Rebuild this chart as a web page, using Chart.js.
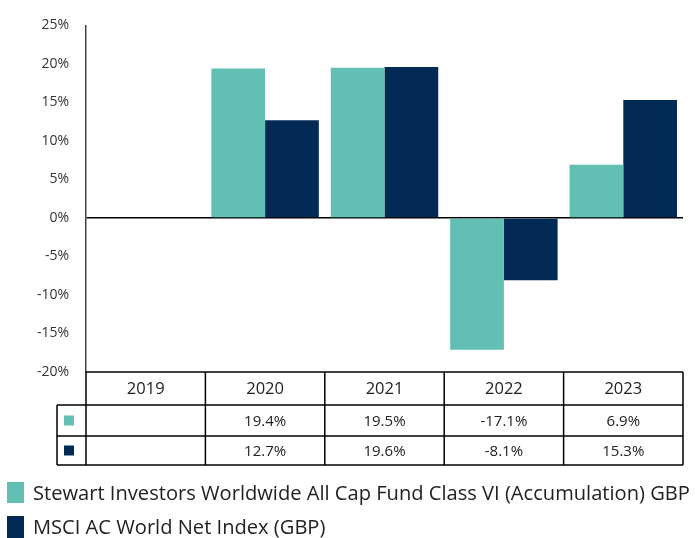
<!DOCTYPE html>
<html>
<head>
<meta charset="utf-8">
<script src="https://cdn.jsdelivr.net/npm/chart.js@4.4.1/dist/chart.umd.min.js"></script>
<style>
html, body { margin: 0; padding: 0; background: #fff; }
#wrap { width: 695px; height: 538px; }
</style>
</head>
<body>
<div id="wrap"><canvas id="perfChart"></canvas></div>
<script>
var years = ['2019', '2020', '2021', '2022', '2023'];
var fundName = 'Stewart Investors Worldwide All Cap Fund Class VI (Accumulation) GBP';
var indexName = 'MSCI AC World Net Index (GBP)';
var fundValues = [null, 19.4, 19.5, -17.1, 6.9];
var indexValues = [null, 12.7, 19.6, -8.1, 15.3];
var yMin = -20, yMax = 25, yStep = 5;

var teal = '#62bfb4';
var navy = '#032a55';
var font = '"Open Sans", Lato, sans-serif';

function fmt(v) {
    return v === null ? '' : v.toFixed(1) + '%';
}

// data table under the bars + legend
var tablePlugin = {
    id: 'tablePlugin',
    afterDraw: function (chart) {
        var ctx = chart.ctx;
        var x = chart.scales.x;
        var area = chart.chartArea;
        var colW = (x.right - x.left) / years.length;
        var top = area.bottom;
        var rows = [top, top + 33, top + 64, top + 93];
        var leftCol = x.left - 29;

        ctx.save();
        ctx.strokeStyle = '#000';
        ctx.lineWidth = 1.5;

        ctx.beginPath();
        ctx.moveTo(x.left, rows[0]); ctx.lineTo(x.right, rows[0]);
        for (var r = 1; r < rows.length; r++) {
            ctx.moveTo(leftCol, rows[r]); ctx.lineTo(x.right, rows[r]);
        }
        for (var i = 0; i <= years.length; i++) {
            var bx = x.getPixelForValue(i) - colW / 2;
            if (i === years.length) bx = x.right;
            ctx.moveTo(bx, rows[0]); ctx.lineTo(bx, rows[3]);
        }
        ctx.moveTo(leftCol, rows[1]); ctx.lineTo(leftCol, rows[3]);
        ctx.stroke();

        // swatches
        ctx.fillStyle = teal;
        ctx.fillRect(leftCol + 7, (rows[1] + rows[2]) / 2 - 5, 10, 10);
        ctx.fillStyle = navy;
        ctx.fillRect(leftCol + 7, (rows[2] + rows[3]) / 2 - 5, 10, 10);

        ctx.fillStyle = '#222';
        ctx.textAlign = 'center';
        ctx.textBaseline = 'middle';
        for (var j = 0; j < years.length; j++) {
            var cx = x.getPixelForValue(j);
            ctx.font = '16.5px ' + font;
            ctx.fillText(years[j], cx, (rows[0] + rows[1]) / 2 + 1);
            ctx.font = '15px ' + font;
            ctx.fillText(fmt(fundValues[j]), cx, (rows[1] + rows[2]) / 2 + 1);
            ctx.fillText(fmt(indexValues[j]), cx, (rows[2] + rows[3]) / 2 + 1);
        }

        // legend, text sized to span the same width as the original
        ctx.textAlign = 'left';
        var size = 18;
        ctx.font = size + 'px ' + font;
        size = size * 657 / ctx.measureText(fundName).width;
        ctx.font = size.toFixed(2) + 'px ' + font;
        ctx.fillStyle = teal;
        ctx.fillRect(7, 482, 17, 21);
        ctx.fillStyle = navy;
        ctx.fillRect(7, 516, 17, 22);
        ctx.fillStyle = '#222';
        ctx.fillText(fundName, 33, 494);
        ctx.fillText(indexName, 33, 528);
        ctx.restore();
    }
};

var config = {
    type: 'bar',
    data: {
        labels: years,
        datasets: [{
            label: fundName,
            data: fundValues,
            backgroundColor: teal,
            barPercentage: 1,
            categoryPercentage: 0.9
        }, {
            label: indexName,
            data: indexValues,
            backgroundColor: navy,
            barPercentage: 1,
            categoryPercentage: 0.9
        }]
    },
    options: {
        responsive: true,
        maintainAspectRatio: false,
        animation: false,
        layout: { padding: { top: 21, right: 12, left: 0, bottom: 0 } },
        plugins: {
            legend: { display: false },
            tooltip: { enabled: false }
        },
        scales: {
            x: {
                grid: { display: false },
                border: { display: false },
                ticks: { display: false },
                afterFit: function (scale) { scale.height = 166; }
            },
            y: {
                min: yMin,
                max: yMax,
                ticks: {
                    stepSize: yStep,
                    padding: 17,
                    color: '#333',
                    font: { family: font, size: 14 },
                    callback: function (v) { return v + '%'; }
                },
                grid: {
                    drawTicks: false,
                    lineWidth: 1.5,
                    color: function (c) { return c.tick && c.tick.value === 0 ? '#000' : 'rgba(0,0,0,0)'; }
                },
                border: { color: '#444', width: 1.5 },
                afterFit: function (scale) { scale.width = 86; }
            }
        }
    },
    plugins: [tablePlugin]
};

var perfChart = new Chart(document.getElementById('perfChart'), config);
</script>
</body>
</html>
